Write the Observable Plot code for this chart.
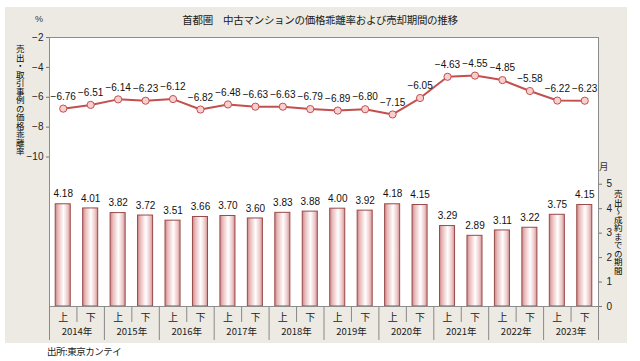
<!DOCTYPE html>
<html>
<head>
<meta charset="utf-8">
<script src="https://cdn.jsdelivr.net/npm/d3@7"></script>
<script src="https://cdn.jsdelivr.net/npm/@observablehq/plot@0.6"></script>
<style>
  body { margin: 0; background: #fff; }
  #wrap { position: relative; width: 640px; height: 361px; overflow: hidden; font-family: "Noto Sans CJK JP", sans-serif; color: #1a1a1a; }
  #panel { position: absolute; left: 5px; top: 7px; width: 622px; height: 336px; background: #ECEAE3; }
  .abs { position: absolute; white-space: nowrap; line-height: 1; }
  #wrap svg { position: absolute; left: 0; top: 0; }
  .vt { writing-mode: vertical-rl; text-orientation: upright; line-height: 1.2; }
</style>
</head>
<body>
<div id="wrap">
  <div id="panel"></div>
</div>
<script>
const halfLabels = ["上", "下"];
const years = ["2014年", "2015年", "2016年", "2017年", "2018年", "2019年", "2020年", "2021年", "2022年", "2023年"];
const gapRate = [-6.76, -6.51, -6.14, -6.23, -6.12, -6.82, -6.48, -6.63, -6.63, -6.79, -6.89, -6.80, -7.15, -6.05, -4.63, -4.55, -4.85, -5.58, -6.22, -6.23];
const salePeriod = [4.18, 4.01, 3.82, 3.72, 3.51, 3.66, 3.70, 3.60, 3.83, 3.88, 4.00, 3.92, 4.18, 4.15, 3.29, 2.89, 3.11, 3.22, 3.75, 4.15];
const leftTicks = [-2, -4, -6, -8, -10];
const rightTicks = [0, 1, 2, 3, 4, 5];

const data = salePeriod.map((v, i) => ({ i, period: v, gap: gapRate[i] }));
const idx = d3.range(data.length);
const yearCenters = years.map((y, j) => 2 * j + 0.5);
const yearBounds = d3.range(years.length + 1).map(j => 2 * j - 0.5);
const halfBounds = years.map((y, j) => 2 * j + 0.5);
const fmt = d3.format(".2f");

const numFont = "'Liberation Sans', Arial, sans-serif";
const dims = { width: 640, height: 361, marginTop: 37, marginBottom: 55, marginLeft: 49, marginRight: 42 };

const barPlot = Plot.plot({
  ...dims,
  style: { background: "transparent", fontFamily: numFont, fontSize: "10px", color: "#222", overflow: "visible" },
  x: { domain: [-0.5, 19.5] },
  y: { domain: [0, 11] },
  marks: [
    Plot.frame({ fill: "white", stroke: null }),
    Plot.rectY(data, { x1: d => d.i - 0.5, x2: d => d.i + 0.5, y1: 0, y2: "period", insetLeft: 6.2, insetRight: 6.2, fill: "url(#barGrad)", stroke: "#9a4a4a", strokeWidth: 1 }),
    Plot.text(data, { x: "i", y: "period", text: d => fmt(d.period), dy: -10, fill: "#111", fontSize: 10, letterSpacing: "-0.6px" }),
    Plot.frame({ stroke: "#8c8c8c" }),
    Plot.axisY(rightTicks, { anchor: "right", tickSize: 3, tickPadding: 5, label: null, stroke: "#777", fontSize: 10 }),
    Plot.axisX(idx, { tickSize: 0, tickPadding: 7, tickFormat: i => halfLabels[i % 2], label: null, fontFamily: "'Noto Sans CJK JP', sans-serif", fontSize: 10 }),
    Plot.axisX(yearCenters, { tickSize: 0, tickPadding: 22, tickFormat: c => years[(c - 0.5) / 2], label: null, fontFamily: "'Noto Sans CJK JP', sans-serif", fontSize: 9.5, letterSpacing: "-0.6px" }),
    Plot.axisX(yearBounds, { tickSize: 34, tickFormat: () => "", label: null, stroke: "#888" }),
    Plot.axisX(halfBounds, { tickSize: 16, tickFormat: () => "", label: null, stroke: "#888" })
  ]
});

const linePlot = Plot.plot({
  ...dims,
  style: { background: "transparent", fontFamily: numFont, fontSize: "10px", color: "#222", overflow: "visible" },
  x: { domain: [-0.5, 19.5], axis: null },
  y: { domain: [-20, -2] },
  marks: [
    Plot.axisY(leftTicks, { anchor: "left", tickSize: 3, tickPadding: 3, label: null, stroke: "#777", fontSize: 10 }),
    Plot.line(data, { x: "i", y: "gap", stroke: "#c2504f", strokeWidth: 2 }),
    Plot.dot(data, { x: "i", y: "gap", r: 3.6, fill: "#f8cfcf", stroke: "#c2504f", strokeWidth: 1 }),
    Plot.text(data, { x: "i", y: "gap", text: d => fmt(d.gap), dy: -12, fill: "#111", fontSize: 10, letterSpacing: "-0.6px" })
  ]
});

// bar gradient
const defs = d3.select(barPlot).insert("defs", ":first-child");
const grad = defs.append("linearGradient").attr("id", "barGrad").attr("x1", "0").attr("x2", "1").attr("y1", "0").attr("y2", "0");
[["0%", "#c98787"], ["18%", "#eab9b9"], ["55%", "#ffffff"], ["82%", "#efc9c9"], ["100%", "#cf9292"]].forEach(([o, c]) => grad.append("stop").attr("offset", o).attr("stop-color", c));

const wrap = document.getElementById("wrap");
wrap.appendChild(barPlot);
wrap.appendChild(linePlot);

function addText(txt, css, cls) {
  const el = document.createElement("div");
  el.className = "abs" + (cls ? " " + cls : "");
  el.textContent = txt;
  Object.assign(el.style, css);
  wrap.appendChild(el);
  return el;
}
addText("首都圏　中古マンションの価格乖離率および売却期間の推移", { left: "320px", top: "15px", fontSize: "10.5px", letterSpacing: "-0.3px", transform: "translateX(-50%)" });
addText("%", { left: "35px", top: "15px", fontSize: "9px", fontFamily: numFont, color: "#333" });
addText("月", { left: "599px", top: "162px", fontSize: "9.5px", color: "#333" });
addText("売出・取引事例の価格乖離率", { left: "15px", top: "45px", fontSize: "8.5px", color: "#000" }, "vt");
addText("売出～成約までの期間", { left: "613px", top: "190px", fontSize: "8.5px", color: "#000" }, "vt");
addText("出所:東京カンテイ", { left: "47px", top: "347px", fontSize: "9.5px", letterSpacing: "-0.5px" });
</script>
</body>
</html>
